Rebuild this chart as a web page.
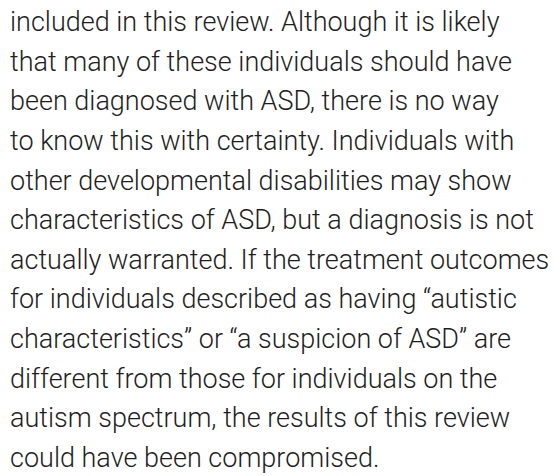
<!DOCTYPE html>
<html>
<head>
<meta charset="utf-8">
<script src="https://cdn.jsdelivr.net/npm/chart.js@4"></script>
<style>
html,body{margin:0;padding:0;background:#fff;width:554px;height:476px;overflow:hidden;}
#txt{position:absolute;left:10px;top:3.2px;font-family:Roboto,"Liberation Sans",Arial,sans-serif;font-weight:300;font-size:27px;line-height:39.6px;color:#1e1e1e;white-space:pre;}
#txt div{height:39.6px;}
</style>
</head>
<body>
<div id="txt"></div>
<script>
const lines = [
  "included in this review. Although it is likely",
  "that many of these individuals should have",
  "been diagnosed with ASD, there is no way",
  "to know this with certainty. Individuals with",
  "other developmental disabilities may show",
  "characteristics of ASD, but a diagnosis is not",
  "actually warranted. If the treatment outcomes",
  "for individuals described as having \u201cautistic",
  "characteristics\u201d or \u201ca suspicion of ASD\u201d are",
  "different from those for individuals on the",
  "autism spectrum, the results of this review",
  "could have been compromised."
];
const box = document.getElementById('txt');
lines.forEach(t => { const d = document.createElement('div'); d.textContent = t; box.appendChild(d); });
</script>
</body>
</html>
